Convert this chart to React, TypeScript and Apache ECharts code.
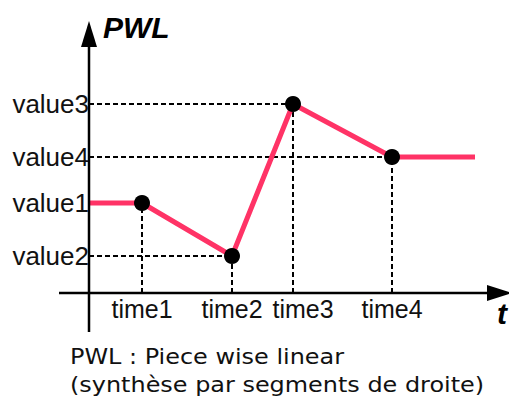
import React, { useEffect, useRef } from "react";
import * as echarts from "echarts";

const times = [53, 143, 204, 303];
const timeLabels = ["time1", "time2", "time3", "time4"];
const values = [90, 37, 189, 136];
const valueLabels = ["value1", "value2", "value3", "value4"];
const startT = 0;
const endT = 386;
const startV = 90;
const endV = 136;

export default function App() {
  const ref = useRef<HTMLDivElement>(null);
  useEffect(() => {
    if (!ref.current) return;
    const chart = echarts.init(ref.current, undefined, { renderer: "svg" });
    const linePts: [number, number][] = [[startT, startV]];
    times.forEach((t, i) => linePts.push([t, values[i]]));
    linePts.push([endT, endV]);
    const dots = times.map((t, i) => [t, values[i]]);
    const guides: any[] = [];
    times.forEach((t, i) => {
      guides.push([{ coord: [t, 0] }, { coord: [t, values[i]] }]);
      guides.push([{ coord: [0, values[i]] }, { coord: [t, values[i]] }]);
    });
    const font = "'Liberation Sans', Arial, sans-serif";
    chart.setOption({
      animation: false,
      backgroundColor: "#fff",
      grid: { left: 89, right: 0, top: 13, bottom: 108, containLabel: false },
      xAxis: {
        type: "value",
        min: 0,
        max: 420,
        axisLine: { show: false },
        axisTick: { show: false },
        splitLine: { show: false },
        axisLabel: {
          customValues: times,
          margin: 3,
          fontFamily: font,
          fontSize: 25,
          color: "#111",
          formatter: (v: number) => {
            const i = times.indexOf(v);
            const s = timeLabels[i] ?? "";
            return i === 2 ? "{sh|" + s + "}" : s;
          },
          rich: { sh: { fontFamily: font, fontSize: 25, color: "#111", padding: [0, 0, 0, 20] } },
        },
      },
      yAxis: {
        type: "value",
        min: 0,
        max: 280,
        axisLine: { show: false },
        axisTick: { show: false },
        splitLine: { show: false },
        axisLabel: {
          customValues: values,
          margin: 0,
          fontFamily: font,
          fontSize: 26,
          color: "#111",
          formatter: (v: number) => valueLabels[values.indexOf(v)] ?? "",
        },
      },
      series: [
        {
          type: "line",
          data: linePts,
          showSymbol: false,
          symbol: "none",
          lineStyle: { color: "#FF3366", width: 5 },
          z: 3,
          markLine: {
            silent: true,
            symbol: ["none", "none"],
            label: { show: false },
            lineStyle: { color: "#000", width: 2, type: [5, 3] },
            data: guides,
            z: 1,
          },
        },
        {
          type: "scatter",
          data: dots,
          symbol: "circle",
          symbolSize: 16,
          itemStyle: { color: "#000", opacity: 1 },
          z: 5,
        },
      ],
      graphic: [
        { type: "line", shape: { x1: 89, y1: 332, x2: 89, y2: 44 }, style: { stroke: "#000", lineWidth: 2.5 }, z: 10 },
        { type: "polygon", shape: { points: [[89, 21], [81, 47], [97, 47]] }, style: { fill: "#000" }, z: 10 },
        { type: "line", shape: { x1: 59, y1: 293, x2: 490, y2: 293 }, style: { stroke: "#000", lineWidth: 2.5 }, z: 10 },
        { type: "polygon", shape: { points: [[512, 293], [487, 285], [487, 301]] }, style: { fill: "#000" }, z: 10 },
        {
          type: "text", x: 103, y: 27,
          style: { text: "PWL", font: "italic bold 30px 'Liberation Sans', Arial, sans-serif", fill: "#000", textVerticalAlign: "middle" },
        },
        {
          type: "text", x: 497, y: 313,
          style: { text: "t", font: "italic bold 30px 'Liberation Sans', Arial, sans-serif", fill: "#000", textVerticalAlign: "middle" },
        },
        {
          type: "text", x: 70, y: 357, scaleX: 1.14,
          style: { text: "PWL : Piece wise linear", font: "21px 'DejaVu Sans', sans-serif", fill: "#111", textVerticalAlign: "middle" },
        },
        {
          type: "text", x: 70, y: 385, scaleX: 1.14,
          style: { text: "(synthèse par segments de droite)", font: "21px 'DejaVu Sans', sans-serif", fill: "#111", textVerticalAlign: "middle" },
        },
      ],
    });
    return () => chart.dispose();
  }, []);
  return <div ref={ref} style={{ width: 509, height: 401, position: "fixed", left: 0, top: 0 }} />;
}
